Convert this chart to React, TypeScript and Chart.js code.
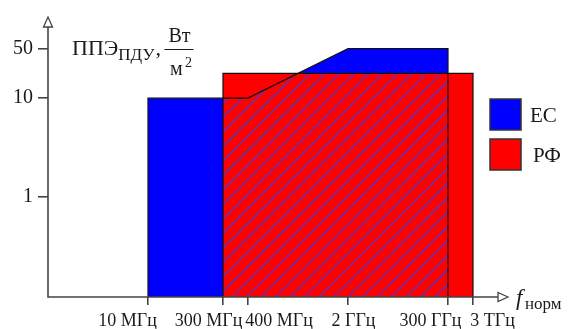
import React, { useEffect, useRef } from 'react';
import { Chart, registerables } from 'chart.js';

Chart.register(...registerables);

// ---- data (schematic positions) ----
const freqLabels = ['10 МГц', '300 МГц', '400 МГц', '2 ГГц', '300 ГГц', '3 ТГц'];
const freqPos = [100, 175, 200, 300, 400, 425];
const levelLabels = ['1', '10', '50'];
const levelPos = [0, 1, 1.5];
// ЕС limit: 10 MHz .. 400 MHz at 10, rising to 50 at 2 GHz, up to 300 GHz
const ecX = [100, 200, 300, 400];
const ecY = [1, 1, 1.5, 1.5];
// РФ limit: 300 MHz .. 3 THz
const rfX = [175, 425];
const rfY = [1.25, 1.25];

const seriesNames = ['ЕС', 'РФ'];
const seriesColors = ['#0000ff', '#ff0000'];

// ---- layout ----
const freqLabelDx = [-20.5, -14.5, 31, 5.5, -17.5, 19.5];
const SERIF = '"Liberation Serif", "Times New Roman", serif';
const AXIS = '#444444';

const drawPlugin = {
  id: 'schema',
  afterDatasetsDraw(chart: any) {
    const { ctx, chartArea, scales } = chart;
    const xs = scales.x;
    const ys = scales.y;
    const bottom = chartArea.bottom;
    const poly = (px: number[], py: number[]) => {
      const pts: [number, number][] = [];
      pts.push([xs.getPixelForValue(px[0]), bottom]);
      px.forEach((v, i) => pts.push([xs.getPixelForValue(v), ys.getPixelForValue(py[i])]));
      pts.push([xs.getPixelForValue(px[px.length - 1]), bottom]);
      return pts;
    };
    const path = (pts: [number, number][], close: boolean) => {
      ctx.beginPath();
      pts.forEach(([x, y], i) => (i ? ctx.lineTo(x, y) : ctx.moveTo(x, y)));
      if (close) ctx.closePath();
    };
    const ec = poly(ecX, ecY);
    const rf = poly(rfX, rfY);

    // hatch in overlap
    ctx.save();
    path(ec, true);
    ctx.clip();
    path(rf, true);
    ctx.clip();
    ctx.strokeStyle = '#7030a0';
    ctx.lineWidth = 1.6;
    const H = bottom - chartArea.top;
    for (let x0 = chartArea.left - H; x0 < chartArea.right; x0 += 14.5) {
      ctx.beginPath();
      ctx.moveTo(x0, bottom);
      ctx.lineTo(x0 + H, bottom - H);
      ctx.stroke();
    }
    ctx.restore();

    // outlines
    ctx.save();
    ctx.strokeStyle = '#111';
    ctx.lineWidth = 1.2;
    path(ec, false);
    ctx.stroke();
    path(rf, false);
    ctx.stroke();
    ctx.restore();

    // axis lines + arrows
    ctx.save();
    ctx.strokeStyle = AXIS;
    ctx.lineWidth = 1.6;
    ctx.beginPath();
    ctx.moveTo(chartArea.left, chartArea.top + 8);
    ctx.lineTo(chartArea.left, bottom);
    ctx.lineTo(chartArea.right - 9, bottom);
    ctx.stroke();
    ctx.fillStyle = '#fff';
    ctx.lineWidth = 1.3;
    ctx.beginPath();
    ctx.moveTo(chartArea.left, chartArea.top);
    ctx.lineTo(chartArea.left - 4.5, chartArea.top + 10);
    ctx.lineTo(chartArea.left + 4.5, chartArea.top + 10);
    ctx.closePath();
    ctx.fill();
    ctx.stroke();
    ctx.beginPath();
    ctx.moveTo(chartArea.right, bottom);
    ctx.lineTo(chartArea.right - 10, bottom - 4.5);
    ctx.lineTo(chartArea.right - 10, bottom + 4.5);
    ctx.closePath();
    ctx.fill();
    ctx.stroke();
    ctx.restore();

    // x tick labels
    ctx.save();
    ctx.fillStyle = '#1a1a1a';
    ctx.font = `18px ${SERIF}`;
    ctx.textAlign = 'center';
    ctx.textBaseline = 'alphabetic';
    freqLabels.forEach((t, i) => {
      ctx.fillText(t, xs.getPixelForValue(freqPos[i]) + freqLabelDx[i], bottom + 29);
    });

    // f_норм
    ctx.textAlign = 'left';
    ctx.font = `italic 23px ${SERIF}`;
    ctx.fillText('f', chartArea.right + 8, bottom + 8);
    ctx.font = `17px ${SERIF}`;
    ctx.fillText('норм', chartArea.right + 17, bottom + 12);

    // y title
    const tx = chartArea.left + 24;
    ctx.font = `22px ${SERIF}`;
    ctx.fillText('ППЭ', tx, 55);
    const w1 = ctx.measureText('ППЭ').width;
    ctx.font = `17px ${SERIF}`;
    ctx.fillText('ПДУ', tx + w1, 60);
    const w2 = ctx.measureText('ПДУ').width;
    ctx.font = `22px ${SERIF}`;
    ctx.fillText(',', tx + w1 + w2 + 1, 55);
    const fx = tx + w1 + w2 + 10;
    ctx.textAlign = 'center';
    ctx.font = `20px ${SERIF}`;
    ctx.fillText('Вт', fx + 15, 42);
    ctx.fillText('м', fx + 12, 75);
    ctx.font = `14px ${SERIF}`;
    ctx.fillText('2', fx + 24, 67);
    ctx.strokeStyle = '#1a1a1a';
    ctx.lineWidth = 1;
    ctx.beginPath();
    ctx.moveTo(fx, 49.5);
    ctx.lineTo(fx + 29, 49.5);
    ctx.stroke();

    // legend
    ctx.textAlign = 'left';
    ctx.textBaseline = 'middle';
    ctx.font = `21px ${SERIF}`;
    seriesNames.forEach((n, i) => {
      const ly = 99 + i * 40;
      ctx.fillStyle = seriesColors[i];
      ctx.fillRect(490, ly, 31, 31);
      ctx.strokeStyle = '#333';
      ctx.lineWidth = 1.5;
      ctx.strokeRect(490, ly, 31, 31);
      ctx.fillStyle = '#1a1a1a';
      ctx.fillText(n, 530 + i * 3, ly + 17);
    });
    ctx.restore();
  },
};

export default function App() {
  const ref = useRef<HTMLCanvasElement>(null);
  useEffect(() => {
    const canvas = ref.current;
    if (!canvas) return;
    const chart = new Chart(canvas, {
      type: 'line',
      data: {
        datasets: [
          {
            label: seriesNames[0],
            data: ecX.map((x, i) => ({ x, y: ecY[i] })),
            backgroundColor: seriesColors[0],
            borderWidth: 0,
            pointRadius: 0,
            fill: 'start',
            order: 2,
          },
          {
            label: seriesNames[1],
            data: rfX.map((x, i) => ({ x, y: rfY[i] })),
            backgroundColor: seriesColors[1],
            borderWidth: 0,
            pointRadius: 0,
            fill: 'start',
            order: 1,
          },
        ],
      },
      options: {
        animation: false,
        responsive: false,
        devicePixelRatio: 1,
        layout: { padding: { top: 14, right: 60, left: 0, bottom: 0 } },
        plugins: { legend: { display: false }, tooltip: { enabled: false } },
        scales: {
          x: {
            type: 'linear',
            min: 0,
            max: 460,
            afterBuildTicks: (s: any) => {
              s.ticks = freqPos.map((v) => ({ value: v }));
            },
            afterFit: (s: any) => {
              s.height = 32;
            },
            ticks: { display: false },
            grid: { drawOnChartArea: false, tickLength: 8, color: AXIS, lineWidth: 1.6 },
            border: { display: false },
          },
          y: {
            type: 'linear',
            min: -1.01,
            max: 1.82,
            afterBuildTicks: (s: any) => {
              s.ticks = levelPos.map((v) => ({ value: v }));
            },
            afterFit: (s: any) => {
              s.width = 48;
            },
            ticks: {
              padding: 5,
              color: '#1a1a1a',
              font: { family: 'Liberation Serif', size: 20 },
              callback: (_v: any, i: number) => levelLabels[i],
            },
            grid: { drawOnChartArea: false, tickLength: 10, color: AXIS, lineWidth: 1.6 },
            border: { display: false },
          },
        },
      },
      plugins: [drawPlugin],
    });
    return () => chart.destroy();
  }, []);
  return (
    <div style={{ position: 'fixed', left: 0, top: 0, width: 568, height: 329, background: '#fff' }}>
      <canvas ref={ref} width={568} height={329} style={{ width: 568, height: 329, display: 'block' }} />
    </div>
  );
}
